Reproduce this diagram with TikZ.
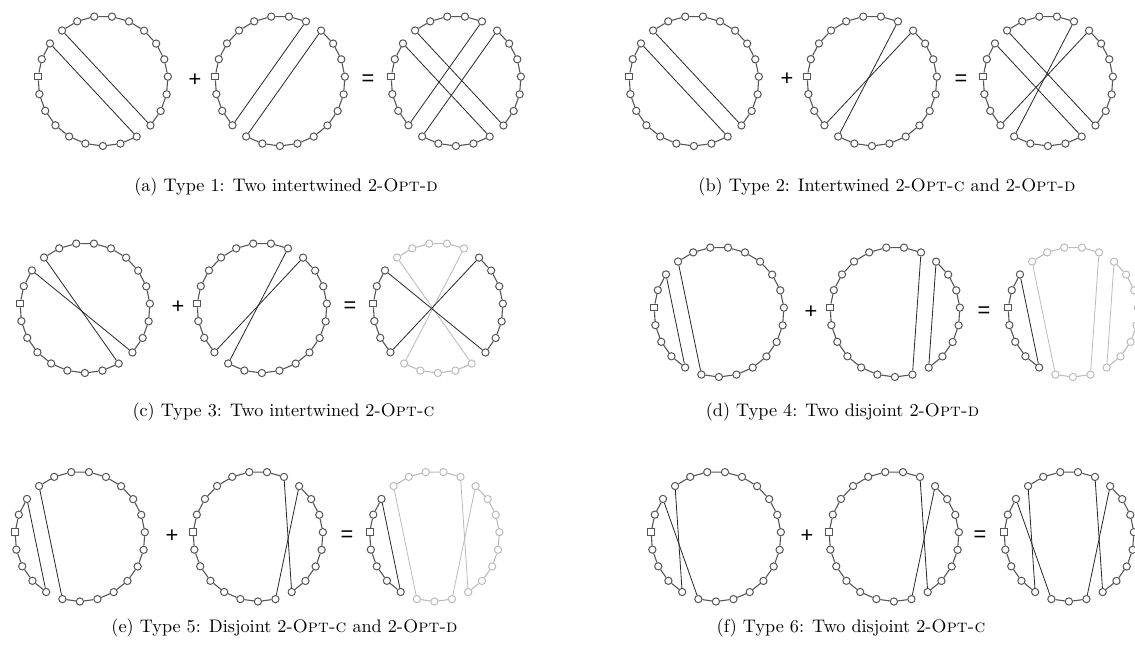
\documentclass[tikz,border=0pt]{standalone}
\usepackage{fontspec}
\usepackage{tikz}
\usetikzlibrary{positioning, calc}
\newfontfamily\signfont{Liberation Sans}
\definecolor{tourDark}{HTML}{555555}
\definecolor{tourLight}{HTML}{BBBBBB}
\definecolor{chordDark}{HTML}{2A2A2A}
\tikzset{
  tnode/.style={circle, draw=tourDark, fill=white, line width=0.55pt,
                inner sep=0pt, minimum size=4pt},
  tnodeL/.style={tnode, draw=tourLight},
  depot/.style={rectangle, draw=tourDark, fill=white, line width=0.55pt,
                inner sep=0pt, minimum size=3.8pt},
  tedge/.style={draw=tourDark, line width=0.6pt},
  tedgeL/.style={draw=tourLight, line width=0.6pt},
  chord/.style={draw=chordDark, line width=0.45pt},
  chordL/.style={draw=tourLight, line width=0.45pt},
  opsign/.style={font=\signfont\large},
  subcap/.style={font=\normalsize, anchor=center},
}
% one tour: depot at 176 deg, 23 stops evenly spaced
\newcommand{\tourring}[3]{%
  \coordinate (#1) at (#2,#3);
  \node[depot] (#1-0) at ([shift={(#1)}]176:65) {};}
\newcommand{\tournodes}[3]{%
  \foreach \k in {#2}
    \node[#3] (#1-\k) at ([shift={(#1)}]176-\k*360/23:65) {};}
\newcommand{\tourarc}[4]{%
  \foreach \k in {#2,...,#3}{%
    \pgfmathtruncatemacro{\tka}{mod(\k,23)}%
    \pgfmathtruncatemacro{\tkb}{mod(\k+1,23)}%
    \draw[#4] (#1-\tka) -- (#1-\tkb);}}

\begin{document}
\begin{tikzpicture}[x=0.55pt, y=0.55pt]
  \useasboundingbox (0,0) rectangle (1135,664);
  \clip (0,0) rectangle (1135,664);

  % (a)
  \tourring{a1}{103}{583} \tournodes{a1}{1,...,22}{tnode}
  \tourarc{a1}{15}{24}{tedge} \tourarc{a1}{3}{13}{tedge}
  \draw[chord] (a1-2) -- (a1-15); \draw[chord] (a1-3) -- (a1-14);
  \tourring{a2}{280}{583} \tournodes{a2}{1,...,22}{tnode}
  \tourarc{a2}{20}{29}{tedge} \tourarc{a2}{8}{18}{tedge}
  \draw[chord] (a2-7) -- (a2-20); \draw[chord] (a2-8) -- (a2-19);
  \tourring{a3}{456}{583} \tournodes{a3}{1,...,22}{tnode}
  \tourarc{a3}{3}{6}{tedge} \tourarc{a3}{8}{13}{tedge}
  \tourarc{a3}{15}{18}{tedge} \tourarc{a3}{20}{24}{tedge}
  \draw[chord] (a3-2) -- (a3-15); \draw[chord] (a3-3) -- (a3-14);
  \draw[chord] (a3-7) -- (a3-20); \draw[chord] (a3-8) -- (a3-19);
  \node[opsign] (plusa) at (195,584) {+};
  \node[opsign] (eqa) at (368,584) {=};
  \node[subcap] (capa) at (286,477) {(a) Type 1: Two intertwined 2-\textsc{Opt-d}};

  % (b)
  \tourring{b1}{694}{583} \tournodes{b1}{1,...,22}{tnode}
  \tourarc{b1}{15}{24}{tedge} \tourarc{b1}{3}{13}{tedge}
  \draw[chord] (b1-2) -- (b1-15); \draw[chord] (b1-3) -- (b1-14);
  \tourring{b2}{872}{583} \tournodes{b2}{1,...,22}{tnode}
  \tourarc{b2}{20}{29}{tedge} \tourarc{b2}{8}{18}{tedge}
  \draw[chord] (b2-7) -- (b2-19); \draw[chord] (b2-8) -- (b2-20);
  \tourring{b3}{1048}{583} \tournodes{b3}{1,...,22}{tnode}
  \tourarc{b3}{3}{6}{tedge} \tourarc{b3}{8}{13}{tedge}
  \tourarc{b3}{15}{18}{tedge} \tourarc{b3}{20}{24}{tedge}
  \draw[chord] (b3-2) -- (b3-15); \draw[chord] (b3-3) -- (b3-14);
  \draw[chord] (b3-7) -- (b3-19); \draw[chord] (b3-8) -- (b3-20);
  \node[opsign] (plusb) at (787,585) {+};
  \node[opsign] (eqb) at (961,584) {=};
  \node[subcap] (capb) at (887,477) {(b) Type 2: Intertwined 2-\textsc{Opt-c} and 2-\textsc{Opt-d}};

  % (c)
  \tourring{c1}{85}{356} \tournodes{c1}{1,...,22}{tnode}
  \tourarc{c1}{15}{24}{tedge} \tourarc{c1}{3}{13}{tedge}
  \draw[chord] (c1-2) -- (c1-14); \draw[chord] (c1-3) -- (c1-15);
  \tourring{c2}{262}{356} \tournodes{c2}{1,...,22}{tnode}
  \tourarc{c2}{20}{29}{tedge} \tourarc{c2}{8}{18}{tedge}
  \draw[chord] (c2-7) -- (c2-19); \draw[chord] (c2-8) -- (c2-20);
  \tourring{c3}{438}{356}
  \tournodes{c3}{1,2,8,9,10,11,12,13,14,20,21,22}{tnode}
  \tournodes{c3}{3,4,5,6,7,15,16,17,18,19}{tnodeL}
  \tourarc{c3}{20}{24}{tedge} \tourarc{c3}{8}{13}{tedge}
  \tourarc{c3}{3}{6}{tedgeL} \tourarc{c3}{15}{18}{tedgeL}
  \draw[chordL] (c3-3) -- (c3-15); \draw[chordL] (c3-7) -- (c3-19);
  \draw[chord] (c3-2) -- (c3-14); \draw[chord] (c3-8) -- (c3-20);
  \node[opsign] (plusc) at (178,357) {+};
  \node[opsign] (eqc) at (350,357) {=};
  \node[subcap] (capc) at (283.5,252) {(c) Type 3: Two intertwined 2-\textsc{Opt-c}};

  % (d)
  \tourring{d1}{719}{352} \tournodes{d1}{1,...,22}{tnode}
  \tourarc{d1}{19}{24}{tedge} \tourarc{d1}{3}{17}{tedge}
  \draw[chord] (d1-2) -- (d1-19); \draw[chord] (d1-3) -- (d1-18);
  \tourring{d2}{895}{352} \tournodes{d2}{1,...,22}{tnode}
  \tourarc{d2}{16}{29}{tedge} \tourarc{d2}{8}{14}{tedge}
  \draw[chord] (d2-7) -- (d2-16); \draw[chord] (d2-8) -- (d2-15);
  \tourring{d3}{1073}{352}
  \tournodes{d3}{1,2,19,20,21,22}{tnode}
  \tournodes{d3}{3,...,18}{tnodeL}
  \tourarc{d3}{19}{24}{tedge}
  \tourarc{d3}{3}{6}{tedgeL} \tourarc{d3}{16}{17}{tedgeL} \tourarc{d3}{8}{14}{tedgeL}
  \draw[chordL] (d3-3) -- (d3-18); \draw[chordL] (d3-7) -- (d3-16);
  \draw[chordL] (d3-8) -- (d3-15); \draw[chord] (d3-2) -- (d3-19);
  \node[opsign] (plusd) at (811,352) {+};
  \node[opsign] (eqd) at (984,352) {=};
  \node[subcap] (capd) at (842.5,252) {(d) Type 4: Two disjoint 2-\textsc{Opt-d}};

  % (e)
  \tourring{e1}{80}{127.5} \tournodes{e1}{1,...,22}{tnode}
  \tourarc{e1}{19}{24}{tedge} \tourarc{e1}{3}{17}{tedge}
  \draw[chord] (e1-2) -- (e1-19); \draw[chord] (e1-3) -- (e1-18);
  \tourring{e2}{258}{127.5} \tournodes{e2}{1,...,22}{tnode}
  \tourarc{e2}{16}{29}{tedge} \tourarc{e2}{8}{14}{tedge}
  \draw[chord] (e2-7) -- (e2-15); \draw[chord] (e2-8) -- (e2-16);
  \tourring{e3}{434.5}{127.5}
  \tournodes{e3}{1,2,19,20,21,22}{tnode}
  \tournodes{e3}{3,...,18}{tnodeL}
  \tourarc{e3}{19}{24}{tedge}
  \tourarc{e3}{3}{6}{tedgeL} \tourarc{e3}{16}{17}{tedgeL} \tourarc{e3}{8}{14}{tedgeL}
  \draw[chordL] (e3-3) -- (e3-18); \draw[chordL] (e3-7) -- (e3-15);
  \draw[chordL] (e3-8) -- (e3-16); \draw[chord] (e3-2) -- (e3-19);
  \node[opsign] (pluse) at (172,127.5) {+};
  \node[opsign] (eqe) at (347,127.5) {=};
  \node[subcap] (cape) at (284.5,36) {(e) Type 5: Disjoint 2-\textsc{Opt-c} and 2-\textsc{Opt-d}};

  % (f)
  \tourring{f1}{716}{127.5} \tournodes{f1}{1,...,22}{tnode}
  \tourarc{f1}{19}{24}{tedge} \tourarc{f1}{3}{17}{tedge}
  \draw[chord] (f1-2) -- (f1-18); \draw[chord] (f1-3) -- (f1-19);
  \tourring{f2}{894}{127.5} \tournodes{f2}{1,...,22}{tnode}
  \tourarc{f2}{16}{29}{tedge} \tourarc{f2}{8}{14}{tedge}
  \draw[chord] (f2-7) -- (f2-15); \draw[chord] (f2-8) -- (f2-16);
  \tourring{f3}{1069}{127.5} \tournodes{f3}{1,...,22}{tnode}
  \tourarc{f3}{19}{24}{tedge} \tourarc{f3}{3}{6}{tedge}
  \tourarc{f3}{8}{14}{tedge} \tourarc{f3}{16}{17}{tedge}
  \draw[chord] (f3-2) -- (f3-18); \draw[chord] (f3-3) -- (f3-19);
  \draw[chord] (f3-7) -- (f3-15); \draw[chord] (f3-8) -- (f3-16);
  \node[opsign] (plusf) at (807,127.5) {+};
  \node[opsign] (eqf) at (980,127.5) {=};
  \node[subcap] (capf) at (851,36) {(f) Type 6: Two disjoint 2-\textsc{Opt-c}};
\end{tikzpicture}
\end{document}
